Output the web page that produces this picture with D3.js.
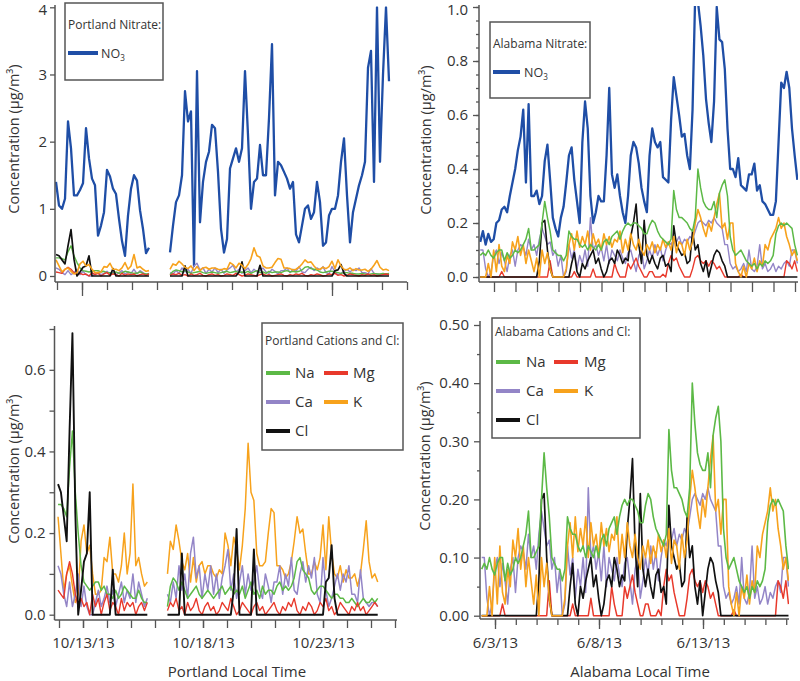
<!DOCTYPE html>
<html><head><meta charset="utf-8">
<script src="https://cdn.jsdelivr.net/npm/d3@7"></script>
<style>
body{margin:0;background:#fff}
svg{display:block}
</style>
</head><body>
<svg id="chart" width="800" height="681"></svg>
<script>
// ---------------- DATA ----------------
// Portland: time in days after 10/12/13 00:00 (Portland local time), regular sampling
const portlandStart = -0.04, portlandStep = 0.12;
const portlandDateLabels = ["10/13/13", "10/18/13", "10/23/13"];
const portlandLabelDays = [1, 6, 11];
const portlandNO3 = [
1.4,1.05,1.0,1.15,2.3,1.9,1.2,1.2,1.28,1.38,
2.2,1.75,1.45,1.35,0.6,0.75,0.95,1.58,1.48,1.3,
1.22,0.85,0.52,0.3,0.9,1.3,1.5,1.42,0.98,0.7,
0.34,0.42,null,null,null,null,null,null,0.35,0.75,
1.1,1.2,1.5,2.75,2.3,2.45,0.15,3.05,0.8,1.4,
1.7,1.85,2.25,2.2,1.55,0.7,0.35,0.55,1.6,1.75,
1.9,1.7,1.9,3.05,2.1,1.0,1.4,1.45,1.95,1.5,
1.5,2.35,3.45,1.2,1.7,1.65,1.55,1.45,1.3,1.4,
0.62,0.5,0.75,1.0,1.05,0.85,0.95,1.4,1.1,0.45,
0.5,0.9,1.0,1.0,1.2,1.7,2.05,1.2,0.5,0.95,
1.15,1.35,1.5,1.7,3.1,3.35,1.4,4.0,1.7,3.0,
4.0,2.9];
const portlandNa = [
0.27,0.27,0.26,0.24,0.36,0.45,0.3,0.2,0.12,0.08,
0.07,0.06,0.07,0.08,0.08,0.06,0.07,0.05,0.05,0.04,
0.06,0.04,0.05,0.07,0.06,0.05,0.04,0.04,0.06,0.04,
0.03,0.03,null,null,null,null,null,null,0.02,0.07,
0.09,0.08,0.06,0.08,0.06,0.04,0.05,0.06,0.07,0.05,
0.04,0.05,0.06,0.05,0.04,0.05,0.06,0.07,0.05,0.06,
0.07,0.05,0.06,0.05,0.07,0.04,0.06,0.08,0.05,0.06,
0.04,0.07,0.05,0.06,0.06,0.05,0.07,0.08,0.06,0.07,
0.06,0.07,0.09,0.13,0.14,0.11,0.1,0.09,0.06,0.05,
0.06,0.07,0.07,0.06,0.05,0.04,0.05,0.05,0.04,0.04,
0.03,0.03,0.04,0.03,0.02,0.03,0.04,0.03,0.03,0.04,
0.03,0.04];
const portlandMg = [
0.06,0.05,0.04,0.1,0.13,0.1,0.05,0.02,0.04,0.02,
0.03,0.0,0.05,0.02,0.04,0.0,0.03,0.05,0.01,0.03,
0.02,0.0,0.04,0.01,0.03,0.02,0.03,0.0,0.02,0.03,
0.01,0.03,null,null,null,null,null,null,0.01,0.03,
0.02,0.04,0.01,0.02,0.0,0.03,0.01,0.02,0.04,0.01,
0.0,0.02,0.03,0.01,0.02,0.0,0.01,0.03,0.02,0.01,
0.04,0.02,0.0,0.01,0.03,0.02,0.01,0.0,0.02,0.03,
0.01,0.02,0.0,0.01,0.02,0.03,0.01,0.0,0.02,0.01,
0.03,0.02,0.04,0.01,0.0,0.02,0.01,0.03,0.02,0.0,
0.01,0.03,0.02,0.04,0.01,0.02,0.0,0.01,0.03,0.02,
0.01,0.0,0.02,0.01,0.03,0.01,0.02,0.0,0.01,0.02,
0.03,0.02];
const portlandCa = [
0.12,0.1,0.05,0.02,0.08,0.02,0.05,0.1,0.02,0.07,
0.02,0.0,0.0,0.03,0.06,0.02,0.04,0.07,0.03,0.06,
0.02,0.05,0.08,0.03,0.06,0.04,0.1,0.03,0.08,0.05,
0.02,0.04,null,null,null,null,null,null,0.05,0.03,
0.08,0.04,0.12,0.06,0.1,0.04,0.15,0.19,0.09,0.12,
0.04,0.1,0.06,0.12,0.05,0.1,0.04,0.09,0.12,0.16,
0.06,0.1,0.04,0.08,0.12,0.05,0.1,0.06,0.08,0.12,
0.06,0.04,0.1,0.07,0.03,0.08,0.08,0.12,0.05,0.1,
0.07,0.14,0.06,0.05,0.1,0.13,0.08,0.12,0.09,0.14,
0.05,0.03,0.14,0.06,0.02,0.04,0.07,0.1,0.06,0.1,
0.08,0.12,0.05,0.05,0.03,0.11,0.04,0.03,0.02,0.03,
0.03,0.02];
const portlandK = [
0.24,0.15,0.06,0.1,0.12,0.07,0.03,0.05,0.18,0.22,
0.15,0.17,0.1,0.05,0.05,0.06,0.14,0.13,0.19,0.1,
0.1,0.08,0.12,0.2,0.1,0.15,0.32,0.12,0.14,0.1,
0.07,0.08,null,null,null,null,null,null,0.1,0.18,
0.16,0.22,0.18,0.13,0.11,0.15,0.08,0.14,0.08,0.12,
0.13,0.1,0.12,0.12,0.1,0.09,0.11,0.1,0.2,0.17,
0.12,0.19,0.16,0.11,0.17,0.26,0.42,0.3,0.28,0.15,
0.12,0.12,0.13,0.2,0.26,0.25,0.12,0.12,0.11,0.09,
0.1,0.13,0.18,0.24,0.2,0.21,0.15,0.1,0.1,0.13,
0.11,0.14,0.22,0.11,0.24,0.15,0.1,0.09,0.12,0.08,
0.11,0.09,0.09,0.1,0.07,0.1,0.16,0.23,0.13,0.09,
0.1,0.08];
const portlandCl = [
0.32,0.3,0.24,0.18,0.45,0.69,0.25,0.0,0.06,0.13,
0.15,0.3,0,0,0,0,0,0,0,0.11,
0,0,0,0,0,0,0,0,0,0,
0,0,null,null,null,null,null,null,0,0,
0,0,0,0.15,0,0,0,0,0,0,
0,0,0,0,0,0,0,0,0,0,
0,0.06,0.21,0,0,0,0,0,0.16,0,
0,0,0,0,0,0,0,0,0,0,
0,0,0,0,0,0,0,0,0,0,
0,0,0,0.08,0.09,0.17,0.04,0,0,0,
0,0,0,0,0,0,0,0,0,0,
0,0];

// Alabama: time in days after 6/3/13 00:00 (Alabama local time), regular sampling
const alabamaStart = -0.64, alabamaStep = 0.125;
const alabamaDateLabels = ["6/3/13", "6/8/13", "6/13/13"];
const alabamaLabelDays = [0, 5, 10];
const alabamaNO3 = [
0.13,0.17,0.12,0.16,0.13,0.14,0.2,0.21,0.25,0.26,
0.24,0.3,0.35,0.4,0.47,0.52,0.62,0.35,0.64,0.3,
0.3,0.32,0.27,0.3,0.43,0.49,0.36,0.22,0.18,0.15,
0.22,0.26,0.35,0.45,0.48,0.36,0.28,0.2,0.5,0.65,
0.55,0.3,0.2,0.24,0.3,0.28,0.28,0.45,0.7,0.38,
0.33,0.38,0.3,0.24,0.2,0.3,0.45,0.5,0.48,0.42,
0.33,0.28,0.24,0.45,0.55,0.5,0.48,0.5,0.37,0.36,
0.35,0.58,0.74,0.67,0.6,0.52,0.53,0.45,0.4,0.62,
1.05,1.02,0.93,0.82,0.66,0.57,0.5,0.65,1.0,0.88,
0.87,0.77,0.55,0.4,0.4,0.37,0.44,0.34,0.33,0.32,
0.38,0.38,0.42,0.32,0.34,0.28,0.27,0.25,0.23,0.23,
0.28,0.5,0.72,0.7,0.76,0.7,0.55,0.45,0.36];
const alabamaNa = [
0.08,0.09,0.08,0.1,0.08,0.07,0.09,0.1,0.1,0.06,
0.09,0.07,0.08,0.1,0.09,0.1,0.12,0.14,0.18,0.1,
0.1,0.11,0.12,0.2,0.28,0.22,0.17,0.1,0.09,0.08,
0.08,0.06,0.08,0.17,0.15,0.14,0.14,0.12,0.11,0.12,
0.1,0.12,0.11,0.1,0.12,0.1,0.13,0.14,0.12,0.15,
0.16,0.17,0.14,0.17,0.19,0.2,0.19,0.2,0.2,0.19,
0.18,0.16,0.16,0.19,0.21,0.2,0.17,0.15,0.14,0.13,
0.12,0.14,0.32,0.25,0.22,0.22,0.21,0.2,0.18,0.17,
0.22,0.4,0.33,0.28,0.26,0.25,0.25,0.28,0.22,0.31,
0.34,0.36,0.3,0.15,0.1,0.08,0.09,0.1,0.08,0.06,
0.05,0.04,0.05,0.03,0.05,0.04,0.06,0.05,0.06,0.08,
0.16,0.19,0.2,0.19,0.2,0.19,0.18,0.12,0.08];
const alabamaMg = [
0,0,0,0,0,0,0,0,0.02,0,
0,0,0,0,0,0,0,0,0,0,
0,0,0,0,0,0,0.06,0,0,0,
0,0,0,0,0,0.02,0,0,0,0,
0,0,0.03,0,0,0,0,0,0,0,
0.05,0.02,0,0,0,0.05,0.03,0.05,0.07,0.04,
0.02,0,0,0.02,0.02,0,0,0,0.01,0,
0.05,0.08,0.06,0.07,0.04,0.02,0,0,0,0.03,
0.07,0.08,0.06,0.05,0.06,0.04,0.06,0.05,0.03,0.04,
0.02,0,0,0,0,0,0,0.01,0,0,
0,0,0,0,0,0,0,0,0,0,
0,0,0,0,0.06,0.05,0.03,0.06,0.02];
const alabamaCa = [
0.1,0.1,0.03,0.0,0.02,0.08,0.1,0.05,0.09,0.06,
0.02,0.08,0.1,0.04,0.1,0.12,0.11,0.08,0.14,0.1,
0.12,0.08,0.14,0.18,0.15,0.12,0.13,0.08,0.1,0.04,
0.08,0.0,0.02,0.12,0.07,0.1,0.03,0.08,0.05,0.1,
0.04,0.22,0.1,0.12,0.08,0.11,0.06,0.12,0.05,0.1,
0.08,0.06,0.1,0.07,0.05,0.09,0.1,0.06,0.02,0.08,
0.1,0.03,0.06,0.1,0.07,0.12,0.08,0.11,0.06,0.1,
0.13,0.12,0.14,0.13,0.15,0.12,0.14,0.13,0.15,0.14,
0.17,0.2,0.21,0.2,0.19,0.21,0.2,0.22,0.2,0.19,
0.18,0.12,0.12,0.05,0.03,0.04,0.02,0.03,0.05,0.02,
0.1,0.03,0.02,0.04,0.12,0.03,0.05,0.02,0.03,0.05,
0.02,0.04,0.03,0.05,0.06,0.04,0.1,0.1,0.05];
const alabamaK = [
0.0,0.0,0.0,0.05,0.0,0.1,0.02,0.12,0.04,0.02,
0.08,0.05,0.13,0.1,0.15,0.08,0.12,0.05,0.1,0.06,
0.02,0.07,0.0,0.1,0.05,0.09,0.03,0.0,0.0,0.0,
0.0,0.0,0.03,0.12,0.16,0.1,0.17,0.11,0.15,0.12,
0.17,0.1,0.16,0.12,0.14,0.1,0.16,0.12,0.15,0.11,
0.14,0.13,0.17,0.09,0.14,0.1,0.16,0.12,0.1,0.14,
0.1,0.08,0.12,0.1,0.13,0.09,0.12,0.1,0.14,0.11,
0.13,0.1,0.15,0.09,0.13,0.12,0.08,0.14,0.1,0.13,
0.2,0.25,0.22,0.18,0.15,0.2,0.17,0.22,0.27,0.31,
0.18,0.2,0.14,0.2,0.2,0.05,0.02,0.0,0.04,0.0,
0.05,0.03,0.07,0.02,0.06,0.04,0.12,0.1,0.14,0.16,
0.18,0.22,0.18,0.2,0.15,0.12,0.08,0.1,0.06];
const alabamaCl = [
0,0,0,0,0,0,0,0,0,0,
0,0,0,0,0,0,0,0,0,0,
0,0,0.06,0.2,0.21,0.1,0.03,0,0,0,
0,0,0,0,0.05,0.09,0.02,0,0.05,0.03,
0.06,0.08,0.1,0.05,0.07,0.03,0,0.02,0.06,0.07,
0.05,0.1,0.08,0.05,0.07,0.06,0.15,0.2,0.27,0.12,
0.05,0.21,0.08,0.05,0.08,0.05,0.03,0.07,0.08,0.04,
0.05,0.02,0.19,0.12,0.1,0.08,0.09,0.05,0.06,0.17,
0.1,0.12,0.05,0.02,0.06,0.0,0.04,0.08,0.1,0.09,
0.06,0.04,0,0,0,0,0,0,0,0,
0,0,0,0,0,0,0,0,0,0,
0,0,0,0,0,0,0,0,0];

const yAxisTitle = "Concentration (\u00b5g/m\u00b3)";
const portlandAxisTitle = "Portland Local Time";
const alabamaAxisTitle = "Alabama Local Time";

// ---------------- STYLE ----------------
const FONT = "'Open Sans', 'Noto Sans', sans-serif";
const AX = "#555";
const TXT = "#333";
const C = {NO3:"#1f4ea6", Na:"#5cb946", Mg:"#e8392b", Ca:"#9385c7", K:"#f7a21c", Cl:"#111111"};

const svg = d3.select("#chart");

function drawPanel(p) {
  const x = d3.scaleLinear().domain(p.xDom).range(p.xRng);
  const y = d3.scaleLinear().domain(p.yDom).range(p.yRng);
  const g = svg.append("g");
  const clipId = "clip-" + p.id;
  g.append("clipPath").attr("id", clipId).append("rect")
    .attr("x", p.axL).attr("y", p.yRng[1] - 1)
    .attr("width", p.axR - p.axL).attr("height", p.axB - p.yRng[1] + 1);
  const plot = g.append("g").attr("clip-path", `url(#${clipId})`);
  const line = d3.line().defined(d => d.v !== null)
    .x(d => x(d.t)).y(d => y(d.v));
  p.series.forEach(s => {
    const pts = s.values.map((v, i) => ({t: p.t0 + i * p.dt, v: v}));
    plot.append("path").datum(pts).attr("d", line)
      .attr("fill", "none").attr("stroke", s.color).attr("stroke-width", s.width)
      .attr("stroke-linejoin", "round");
  });

  // axis lines
  g.append("line").attr("x1", p.axL).attr("x2", p.axR).attr("y1", p.axB).attr("y2", p.axB)
    .attr("stroke", AX).attr("stroke-width", 1.5);
  g.append("line").attr("x1", p.axL).attr("x2", p.axL).attr("y1", p.axT).attr("y2", p.axB)
    .attr("stroke", AX).attr("stroke-width", 1.5);

  const styleAxis = a => {
    a.select(".domain").remove();
    a.selectAll("line").attr("stroke", AX).attr("stroke-width", 1.3);
    a.selectAll("text").attr("font-family", FONT).attr("font-size", 15).attr("fill", TXT);
  };

  // x ticks
  const xa = g.append("g").attr("transform", `translate(0,${p.axB})`);
  xa.append("g").call(d3.axisBottom(x).tickValues(p.xTicks).tickSize(p.xTickLen).tickFormat(""))
    .call(styleAxis);
  if (p.xMajor) {
    xa.append("g").call(d3.axisBottom(x).tickValues(p.xMajor).tickSize(p.xMajorLen)
      .tickPadding(p.xPad || 3).tickFormat((d, i) => p.xLabels ? p.xLabels[i] : ""))
      .call(styleAxis);
  }
  // y ticks
  const ya = g.append("g").attr("transform", `translate(${p.axL},0)`);
  if (p.yMinor) {
    ya.append("g").call(d3.axisLeft(y).tickValues(p.yMinor).tickSize(p.yMinorLen).tickFormat(""))
      .call(styleAxis);
  }
  const yMaj = ya.append("g").call(d3.axisLeft(y).tickValues(p.yMajor).tickSize(p.yTickLen)
    .tickPadding(p.yPad).tickFormat(p.yFmt)).call(styleAxis);
  // keep the topmost label fully inside the page
  yMaj.selectAll("text").filter(d => y(d) < 10).attr("dy", "0.5em");

  // y title
  g.append("text").attr("transform", `translate(${p.yTitleX},${p.yTitleY}) rotate(-90)`)
    .attr("text-anchor", "middle").attr("dy", "0.35em")
    .attr("font-family", FONT).attr("font-size", 14.5).attr("fill", TXT).text(yAxisTitle);
  if (p.xTitle) {
    g.append("text").attr("x", p.xTitleX).attr("y", p.xTitleY).attr("text-anchor", "middle")
      .attr("font-family", FONT).attr("font-size", 15).attr("fill", TXT).text(p.xTitle);
  }
  drawLegend(p.legend);
}

function drawLegend(L) {
  const g = svg.append("g");
  g.append("rect").attr("x", L.x).attr("y", L.y).attr("width", L.w).attr("height", L.h)
    .attr("fill", "#fff").attr("stroke", AX).attr("stroke-width", 1.5);
  g.append("text").attr("x", L.x + 3).attr("y", L.titleY).attr("font-family", FONT)
    .attr("font-size", 12).attr("fill", TXT).text(L.title);
  L.items.forEach(it => {
    g.append("line").attr("x1", it.x).attr("x2", it.x + L.lineW).attr("y1", it.y).attr("y2", it.y)
      .attr("stroke", it.color).attr("stroke-width", 4);
    const t = g.append("text").attr("x", it.x + L.lineW + L.gap).attr("y", it.y).attr("dy", "0.36em")
      .attr("font-family", FONT).attr("font-size", L.fs).attr("fill", TXT);
    if (it.sub) {
      t.append("tspan").text(it.label);
      t.append("tspan").attr("font-size", L.fs * 0.65).attr("dy", 3).text(it.sub);
    } else t.text(it.label);
  });
}

const dayTicks = d3.range(0, 15);
const cationLegend = (x0, x1, y0, dy) => [
  {label:"Na", color:C.Na, x:x0, y:y0}, {label:"Mg", color:C.Mg, x:x1, y:y0},
  {label:"Ca", color:C.Ca, x:x0, y:y0 + dy}, {label:"K", color:C.K, x:x1, y:y0 + dy},
  {label:"Cl", color:C.Cl, x:x0, y:y0 + 2 * dy}];

// Portland nitrate (top left)
drawPanel({
  id:"tl", t0:portlandStart, dt:portlandStep,
  xDom:[0,14], xRng:[57,407], axL:55, axR:407, axB:282, axT:5,
  yDom:[0,4], yRng:[276,7.3], yMajor:[0,1,2,3,4], yFmt:d3.format("d"), yTickLen:5, yPad:3,
  xTicks:dayTicks, xTickLen:8, xMajor:[1,11], xMajorLen:14,
  yTitleX:14, yTitleY:139,
  series:[
    {values:portlandNO3, color:C.NO3, width:2.3},
    {values:portlandCa, color:C.Ca, width:1.4},
    {values:portlandNa, color:C.Na, width:1.4},
    {values:portlandMg, color:C.Mg, width:1.4},
    {values:portlandCl, color:C.Cl, width:1.7},
    {values:portlandK, color:C.K, width:1.6}],
  legend:{x:65, y:3, w:98, h:77, title:"Portland Nitrate:", titleY:29, lineW:30, gap:3, fs:12.5,
    items:[{label:"NO", sub:"3", color:C.NO3, x:68, y:53}]}
});

// Alabama nitrate (top right)
drawPanel({
  id:"tr", t0:alabamaStart, dt:alabamaStep,
  xDom:[0,14], xRng:[494,795], axL:479, axR:798, axB:282, axT:5,
  yDom:[0,1], yRng:[277,7], yMajor:d3.range(0,1.01,0.2), yMinor:d3.range(0,1.01,0.05),
  yMinorLen:3, yFmt:d3.format(".1f"), yTickLen:6, yPad:5,
  xTicks:dayTicks, xTickLen:10,
  yTitleX:426, yTitleY:140,
  series:[
    {values:alabamaNO3, color:C.NO3, width:2.3},
    {values:alabamaCa, color:C.Ca, width:1.4},
    {values:alabamaMg, color:C.Mg, width:1.4},
    {values:alabamaCl, color:C.Cl, width:1.6},
    {values:alabamaK, color:C.K, width:1.6},
    {values:alabamaNa, color:C.Na, width:1.5}],
  legend:{x:490, y:22, w:100, h:76, title:"Alabama Nitrate:", titleY:48, lineW:27, gap:4, fs:12.5,
    items:[{label:"NO", sub:"3", color:C.NO3, x:493, y:72}]}
});

// Portland cations (bottom left)
drawPanel({
  id:"bl", t0:portlandStart, dt:portlandStep,
  xDom:[0,14], xRng:[59,395], axL:54.5, axR:397, axB:620, axT:326,
  yDom:[0,0.7], yRng:[614.7,329], yMajor:[0,0.2,0.4,0.6], yMinor:[0.1,0.3,0.5,0.7], yMinorLen:5,
  yFmt:d3.format(".1f"), yTickLen:5, yPad:4,
  xTicks:dayTicks, xTickLen:8, xMajor:portlandLabelDays, xMajorLen:8, xPad:9, xLabels:portlandDateLabels,
  yTitleX:14, yTitleY:469, xTitle:portlandAxisTitle, xTitleX:237, xTitleY:677,
  series:[
    {values:portlandK, color:C.K, width:1.5},
    {values:portlandCa, color:C.Ca, width:1.5},
    {values:portlandNa, color:C.Na, width:1.5},
    {values:portlandMg, color:C.Mg, width:1.4},
    {values:portlandCl, color:C.Cl, width:1.9}],
  legend:{x:262, y:323, w:141, h:127, title:"Portland Cations and Cl:", titleY:345, lineW:24, gap:5, fs:15,
    items:cationLegend(266, 324, 373, 29)}
});

// Alabama cations (bottom right)
drawPanel({
  id:"br", t0:alabamaStart, dt:alabamaStep,
  xDom:[0,14], xRng:[495,786.2], axL:480, axR:789, axB:619, axT:321,
  yDom:[0,0.5], yRng:[615.7,325], yMajor:d3.range(0,0.51,0.1), yMinor:d3.range(0.05,0.5,0.1),
  yMinorLen:3, yFmt:d3.format(".2f"), yTickLen:6, yPad:5,
  xTicks:dayTicks, xTickLen:6, xMajor:alabamaLabelDays, xMajorLen:10, xPad:8, xLabels:alabamaDateLabels,
  yTitleX:425, yTitleY:456, xTitle:alabamaAxisTitle, xTitleX:640, xTitleY:677,
  series:[
    {values:alabamaCa, color:C.Ca, width:1.5},
    {values:alabamaMg, color:C.Mg, width:1.5},
    {values:alabamaCl, color:C.Cl, width:1.7},
    {values:alabamaK, color:C.K, width:1.6},
    {values:alabamaNa, color:C.Na, width:1.6}],
  legend:{x:492, y:318, w:148, h:120, title:"Alabama Cations and Cl:", titleY:336, lineW:24, gap:6, fs:15,
    items:cationLegend(496, 554, 362, 29)}
});
</script>
</body></html>
